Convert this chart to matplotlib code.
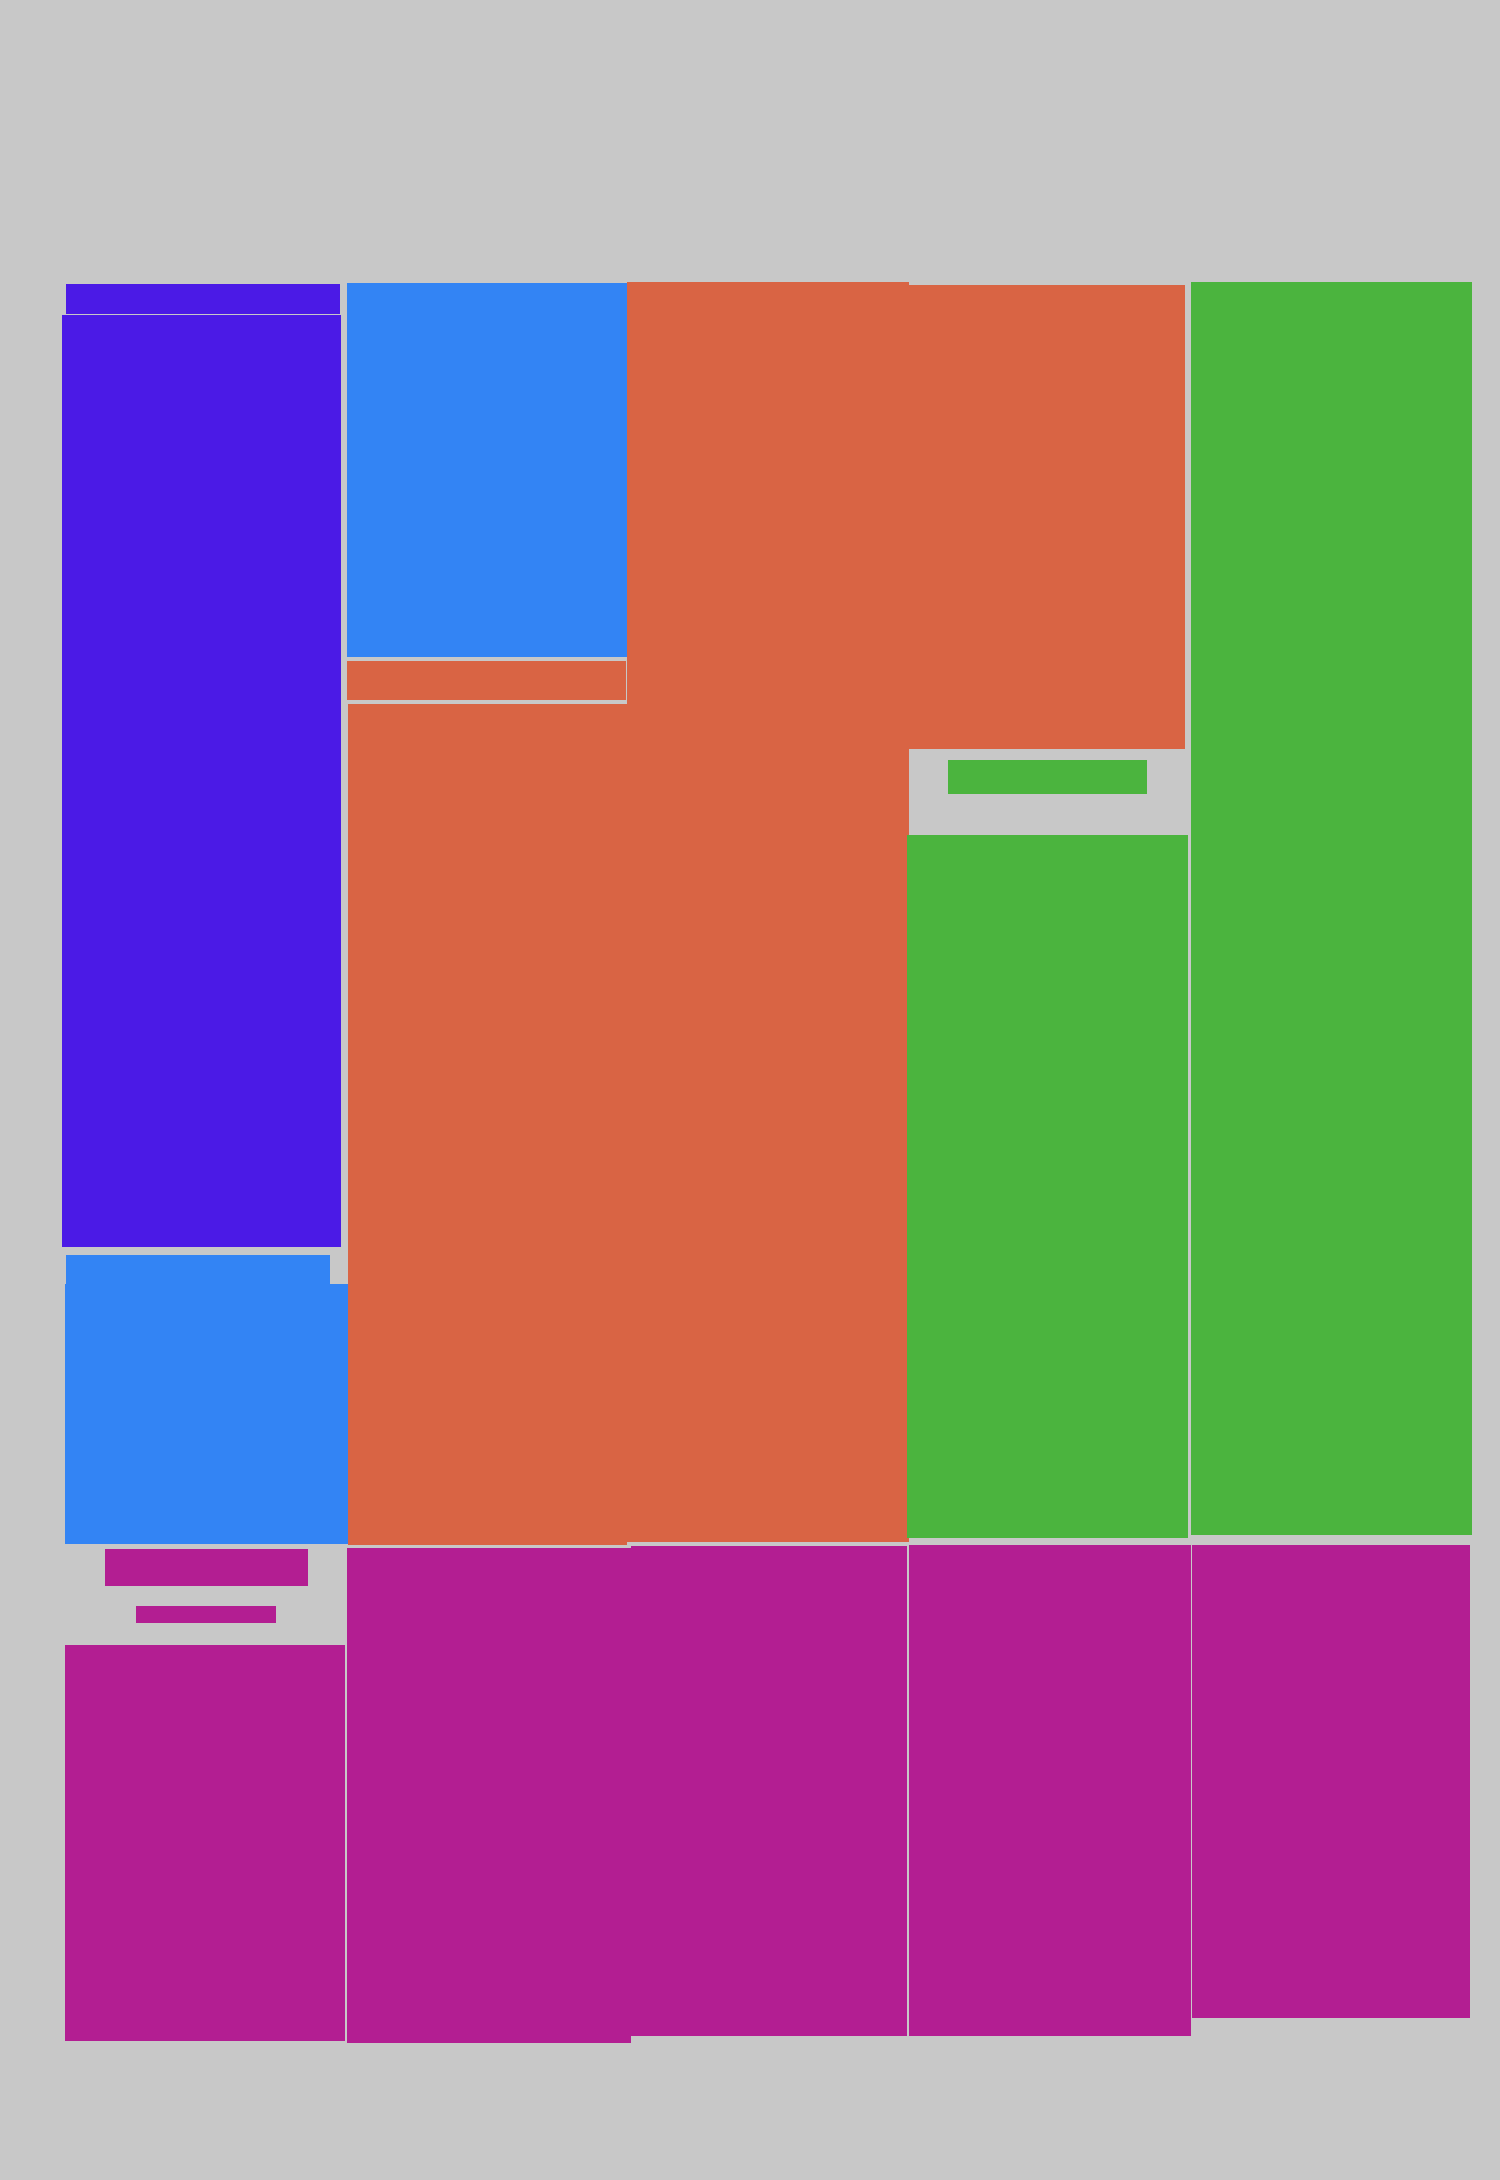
import matplotlib
matplotlib.use("Agg")
import matplotlib.pyplot as plt

# Bloques de cada columna (en unidades del lienzo, y hacia abajo)
colores = {
    'violeta': '#4B1AE6',
    'azul': '#3384F4',
    'naranja': '#D96444',
    'verde': '#4BB43E',
    'magenta': '#B31E92',
}

bloque_color = ['violeta', 'violeta', 'azul', 'azul', 'magenta', 'magenta', 'magenta',
                'azul', 'naranja', 'naranja', 'magenta',
                'naranja', 'magenta',
                'naranja', 'verde', 'verde', 'magenta',
                'verde', 'magenta']
bloque_x0 = [66, 62, 66, 65, 105, 136, 65,
             347, 347, 348, 347,
             627, 631,
             909, 948, 907, 909,
             1191, 1192]
bloque_x1 = [340, 341, 330, 349, 308, 276, 345,
             627, 626, 627, 631,
             909, 907,
             1185, 1147, 1188, 1191,
             1472, 1470]
bloque_y0 = [284, 315, 1255, 1284, 1549, 1606, 1645,
             283, 661, 704, 1548,
             282, 1546,
             285, 760, 835, 1545,
             282, 1545]
bloque_y1 = [314, 1247, 1285, 1544, 1586, 1623, 2041,
             657, 700, 1545, 2043,
             1542, 2036,
             749, 794, 1538, 2036,
             1535, 2018]

fondo = '#C8C8C8'

fig = plt.figure(figsize=(15, 21.8), dpi=100, facecolor=fondo)
ax = fig.add_axes([0, 0, 1, 1])
ax.set_facecolor(fondo)

anchos = [b - a for a, b in zip(bloque_x0, bloque_x1)]
altos = [b - a for a, b in zip(bloque_y0, bloque_y1)]
ax.bar(bloque_x0, altos, width=anchos, bottom=bloque_y0, align='edge',
       color=[colores[c] for c in bloque_color], linewidth=0)

ax.set_xlim(0, 1500)
ax.set_ylim(2180, 0)
ax.axis('off')

fig.savefig('out.png', dpi=100, facecolor=fondo)
